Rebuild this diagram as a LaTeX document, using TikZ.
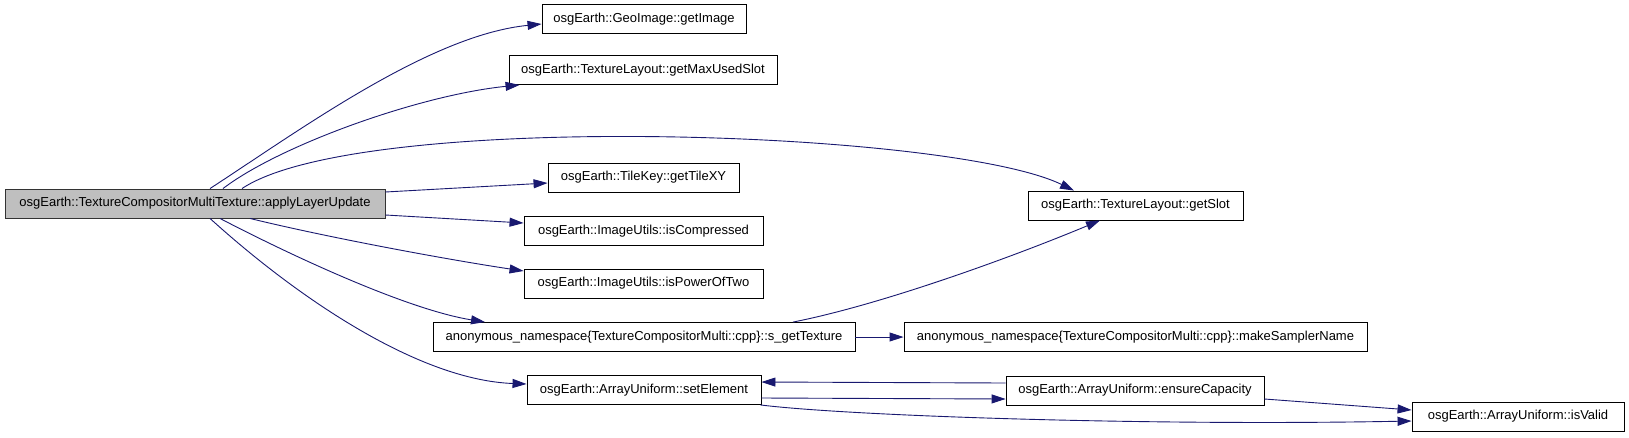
\documentclass[tikz,border=0pt]{standalone}
\usepackage{fontspec}
\setmainfont{Liberation Sans}
\usetikzlibrary{arrows.meta}
\definecolor{edgeblue}{HTML}{191970}
\definecolor{mainfill}{HTML}{BFBFBF}
\tikzset{
  fnbox/.style={draw=black, line width=0.9pt, fill=white, inner sep=0pt,
    minimum height=29pt, font=\fontsize{13}{15}\selectfont, anchor=center},
  mainbox/.style={fnbox, fill=mainfill, draw=black!80},
  call/.style={draw=edgeblue, line width=0.9pt,
    -{Triangle[length=14pt,width=9pt]}},
}
\begin{document}
\begin{tikzpicture}[x=1pt,y=1pt]
\useasboundingbox (0,0) rectangle (1629,-437);
\fill[white] (0,0) rectangle (1629,-437);

\node[mainbox, minimum width=380pt] (main) at (195,-203.5) {osgEarth::TextureCompositorMultiTexture::applyLayerUpdate};
\node[fnbox, minimum width=204pt] (geo) at (644,-19) {osgEarth::GeoImage::getImage};
\node[fnbox, minimum width=268pt] (maxslot) at (643,-70) {osgEarth::TextureLayout::getMaxUsedSlot};
\node[fnbox, minimum width=191pt] (tilexy) at (643.5,-177.5) {osgEarth::TileKey::getTileXY};
\node[fnbox, minimum width=239pt] (iscomp) at (643.5,-231) {osgEarth::ImageUtils::isCompressed};
\node[fnbox, minimum width=239pt] (ispow) at (643.5,-283.5) {osgEarth::ImageUtils::isPowerOfTwo};
\node[fnbox, minimum width=422pt] (sgettex) at (644,-337) {anonymous\_namespace\{TextureCompositorMulti::cpp\}::s\_getTexture};
\node[fnbox, minimum width=234pt] (setel) at (644,-390) {osgEarth::ArrayUniform::setElement};
\node[fnbox, minimum width=215pt] (getslot) at (1135.5,-205.5) {osgEarth::TextureLayout::getSlot};
\node[fnbox, minimum width=463pt] (makesampler) at (1135.5,-337) {anonymous\_namespace\{TextureCompositorMulti::cpp\}::makeSamplerName};
\node[fnbox, minimum width=258pt] (ensure) at (1135,-390.5) {osgEarth::ArrayUniform::ensureCapacity};
\node[fnbox, minimum width=212pt] (isvalid) at (1518,-416.5) {osgEarth::ArrayUniform::isValid};

% main -> GeoImage
\draw[call] ([xshift=15pt]main.north) .. controls (300,-130) and (430,-35) .. ([yshift=-5pt]geo.west);
% main -> getMaxUsedSlot
\draw[call] ([xshift=28pt]main.north) .. controls (280,-145) and (420,-95) .. ([xshift=11pt]maxslot.south west);
% main -> getSlot
\draw[call] ([xshift=47pt]main.north) .. controls (360,-110) and (950,-130) .. ([xshift=-61.5pt]getslot.north);
% main -> getTileXY
\draw[call] ([yshift=11.5pt]main.east) -- ([yshift=-5.5pt]tilexy.west);
% main -> isCompressed
\draw[call] ([yshift=-11.5pt]main.east) -- ([yshift=8pt]iscomp.west);
% main -> isPowerOfTwo
\draw[call] ([xshift=55pt]main.south) .. controls (330,-238) and (450,-260) .. ([yshift=12.5pt]ispow.west);
% main -> s_getTexture
\draw[call] ([xshift=25pt]main.south) .. controls (300,-260) and (410,-310) .. ([xshift=-159pt]sgettex.north);
% main -> setElement
\draw[call] ([xshift=15pt]main.south) .. controls (300,-300) and (420,-380) .. ([yshift=6pt]setel.west);
% s_getTexture -> getSlot
\draw[call] ([xshift=149pt]sgettex.north) .. controls (880,-305) and (1010,-258) .. ([xshift=-35.5pt]getslot.south);
% s_getTexture -> makeSamplerName
\draw[call] (sgettex.east) -- (makesampler.west);
% setElement -> ensureCapacity
\draw[call] ([yshift=-8pt]setel.east) -- ([yshift=-8.5pt]ensure.west);
% ensureCapacity -> setElement
\draw[call] ([yshift=7.5pt]ensure.west) -- ([yshift=8pt]setel.east);
% ensureCapacity -> isValid
\draw[call] ([yshift=-8.5pt]ensure.east) -- ([yshift=6.5pt]isvalid.west);
% setElement -> isValid
\draw[call] ([xshift=-1pt]setel.south east) .. controls (850,-416) and (1150,-426) .. ([yshift=-4.5pt]isvalid.west);
\end{tikzpicture}
\end{document}
